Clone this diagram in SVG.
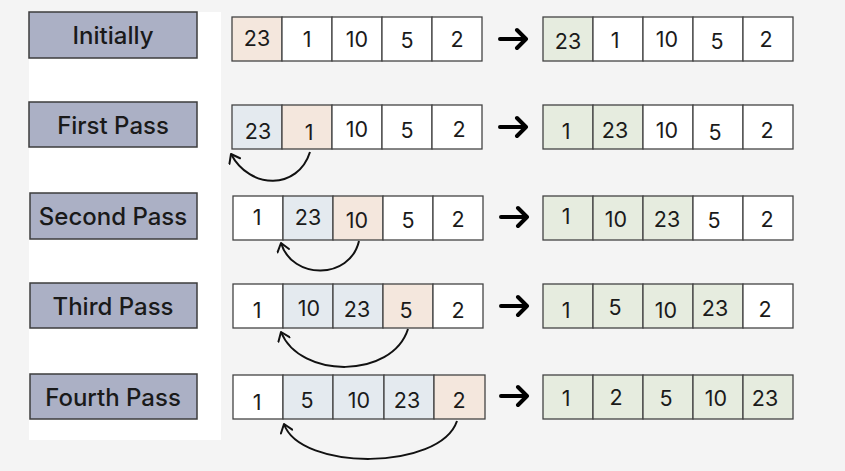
<svg xmlns="http://www.w3.org/2000/svg" width="845" height="471" viewBox="0 0 845 471">
<defs>
<style>
.lbl{fill:#abb0c5;stroke:#3c3c3c;stroke-width:1.5}
.lt{font-family:Inter,"Liberation Sans",sans-serif;font-size:24px;font-weight:500;fill:#1a1a1a;text-anchor:middle}
.c{fill:#ffffff;stroke:#444;stroke-width:1.3}
.p{fill:#f4e7dd}
.b{fill:#e4eaef}
.g{fill:#e6ecdf}
.n{font-family:Inter,"Liberation Sans",sans-serif;font-size:21.5px;fill:#1a1a1a;text-anchor:middle}
.arr{fill:none;stroke:#000;stroke-width:4;stroke-linecap:round;stroke-linejoin:round}
.cv{fill:none;stroke:#111;stroke-width:2}
</style>
<marker id="hd" viewBox="0 0 12 14" refX="10" refY="7" markerWidth="12" markerHeight="14" markerUnits="userSpaceOnUse" orient="auto">
<path d="M2,1 L10,7 L2,13" fill="none" stroke="#111" stroke-width="2" stroke-linecap="round" stroke-linejoin="round"/>
</marker>
</defs>
<rect width="845" height="471" fill="#f4f4f4"/>
<rect x="29" y="12" width="192" height="428" fill="#ffffff"/>

<g id="label-initially"><rect class="lbl" x="29" y="12" width="168" height="46"/><text class="lt" x="113" y="44">Initially</text></g>
<g id="label-first"><rect class="lbl" x="29" y="102" width="168" height="45"/><text class="lt" x="113" y="134">First Pass</text></g>
<g id="label-second"><rect class="lbl" x="30" y="193" width="167" height="46"/><text class="lt" x="113" y="225">Second Pass</text></g>
<g id="label-third"><rect class="lbl" x="30" y="283" width="167" height="45"/><text class="lt" x="113" y="315">Third Pass</text></g>
<g id="label-fourth"><rect class="lbl" x="30" y="374" width="167" height="45"/><text class="lt" x="113" y="406">Fourth Pass</text></g>

<g id="row1-before">
<rect class="c p" x="232" y="17" width="50" height="44"/><rect class="c" x="282" y="17" width="50" height="44"/><rect class="c" x="332" y="17" width="50" height="44"/><rect class="c" x="382" y="17" width="50" height="44"/><rect class="c" x="432" y="17" width="50" height="44"/>
<text class="n" x="257" y="46">23</text><text class="n" x="307" y="47">1</text><text class="n" x="357" y="47">10</text><text class="n" x="407" y="48">5</text><text class="n" x="457" y="47">2</text>
</g>
<g id="row1-after">
<rect class="c g" x="543" y="17" width="50" height="44"/><rect class="c" x="593" y="17" width="50" height="44"/><rect class="c" x="643" y="17" width="50" height="44"/><rect class="c" x="693" y="17" width="50" height="44"/><rect class="c" x="743" y="17" width="50" height="44"/>
<text class="n" x="568" y="49">23</text><text class="n" x="615" y="48">1</text><text class="n" x="667" y="47">10</text><text class="n" x="717" y="49">5</text><text class="n" x="766" y="47">2</text>
</g>

<g id="row2-before">
<rect class="c b" x="232" y="105" width="50" height="44"/><rect class="c p" x="282" y="105" width="50" height="44"/><rect class="c" x="332" y="105" width="50" height="44"/><rect class="c" x="382" y="105" width="50" height="44"/><rect class="c" x="432" y="105" width="50" height="44"/>
<text class="n" x="258" y="139">23</text><text class="n" x="309" y="140">1</text><text class="n" x="357" y="137">10</text><text class="n" x="407" y="138">5</text><text class="n" x="459" y="137">2</text>
</g>
<g id="row2-after">
<rect class="c g" x="543" y="105" width="50" height="44"/><rect class="c g" x="593" y="105" width="50" height="44"/><rect class="c" x="643" y="105" width="50" height="44"/><rect class="c" x="693" y="105" width="50" height="44"/><rect class="c" x="743" y="105" width="50" height="44"/>
<text class="n" x="566" y="139">1</text><text class="n" x="615" y="138">23</text><text class="n" x="667" y="138">10</text><text class="n" x="715" y="140">5</text><text class="n" x="767" y="138">2</text>
</g>

<g id="row3-before">
<rect class="c" x="233" y="196" width="50" height="44"/><rect class="c b" x="283" y="196" width="50" height="44"/><rect class="c p" x="333" y="196" width="50" height="44"/><rect class="c" x="383" y="196" width="50" height="44"/><rect class="c" x="433" y="196" width="50" height="44"/>
<text class="n" x="257" y="225">1</text><text class="n" x="308" y="225">23</text><text class="n" x="357" y="228">10</text><text class="n" x="408" y="228">5</text><text class="n" x="458" y="227">2</text>
</g>
<g id="row3-after">
<rect class="c g" x="543" y="196" width="50" height="44"/><rect class="c g" x="593" y="196" width="50" height="44"/><rect class="c g" x="643" y="196" width="50" height="44"/><rect class="c" x="693" y="196" width="50" height="44"/><rect class="c" x="743" y="196" width="50" height="44"/>
<text class="n" x="566" y="224">1</text><text class="n" x="616" y="227">10</text><text class="n" x="667" y="227">23</text><text class="n" x="714" y="228">5</text><text class="n" x="767" y="227">2</text>
</g>

<g id="row4-before">
<rect class="c" x="233" y="284" width="50" height="44"/><rect class="c b" x="283" y="284" width="50" height="44"/><rect class="c b" x="333" y="284" width="50" height="44"/><rect class="c p" x="383" y="284" width="50" height="44"/><rect class="c" x="433" y="284" width="50" height="44"/>
<text class="n" x="257" y="318">1</text><text class="n" x="309" y="316">10</text><text class="n" x="357" y="317">23</text><text class="n" x="406" y="318">5</text><text class="n" x="458" y="318">2</text>
</g>
<g id="row4-after">
<rect class="c g" x="543" y="284" width="50" height="44"/><rect class="c g" x="593" y="284" width="50" height="44"/><rect class="c g" x="643" y="284" width="50" height="44"/><rect class="c g" x="693" y="284" width="50" height="44"/><rect class="c" x="743" y="284" width="50" height="44"/>
<text class="n" x="566" y="318">1</text><text class="n" x="615" y="315">5</text><text class="n" x="666" y="318">10</text><text class="n" x="715" y="316">23</text><text class="n" x="765" y="317">2</text>
</g>

<g id="row5-before">
<rect class="c" x="233" y="375" width="50" height="44"/><rect class="c b" x="283" y="375" width="50" height="44"/><rect class="c b" x="333" y="375" width="51" height="44"/><rect class="c b" x="384" y="375" width="50" height="44"/><rect class="c p" x="434" y="375" width="51" height="44"/>
<text class="n" x="257" y="410">1</text><text class="n" x="307" y="408">5</text><text class="n" x="359" y="408">10</text><text class="n" x="407" y="408">23</text><text class="n" x="459" y="408">2</text>
</g>
<g id="row5-after">
<rect class="c g" x="543" y="375" width="50" height="44"/><rect class="c g" x="593" y="375" width="50" height="44"/><rect class="c g" x="643" y="375" width="50" height="44"/><rect class="c g" x="693" y="375" width="50" height="44"/><rect class="c g" x="743" y="375" width="50" height="44"/>
<text class="n" x="566" y="406">1</text><text class="n" x="616" y="405">2</text><text class="n" x="666" y="406">5</text><text class="n" x="716" y="406">10</text><text class="n" x="765" y="406">23</text>
</g>

<g id="connectors">
<path class="arr" d="M500,39 H526 M517,30 L526,39 L517,48"/>
<path class="arr" d="M500,127 H526 M517,118 L526,127 L517,136"/>
<path class="arr" d="M501,217 H527 M518,208 L527,217 L518,226"/>
<path class="arr" d="M501,306 H527 M518,297 L527,306 L518,315"/>
<path class="arr" d="M501,396 H527 M518,387 L527,396 L518,405"/>
<path class="cv" marker-end="url(#hd)" d="M310,152 C298,190 250,190 231,154"/>
<path class="cv" marker-end="url(#hd)" d="M359,241 C350,280 292,280 281,243"/>
<path class="cv" marker-end="url(#hd)" d="M408,329 C392,379 300,379 281,332"/>
<path class="cv" marker-end="url(#hd)" d="M457,421 C440,471 300,471 284,424"/>
</g>
</svg>
